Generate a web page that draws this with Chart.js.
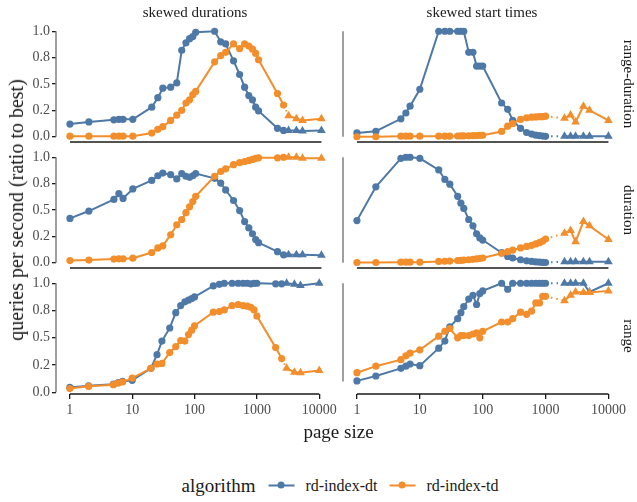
<!DOCTYPE html>
<html><head><meta charset="utf-8">
<script src="https://cdn.jsdelivr.net/npm/chart.js@4.4.1/dist/chart.umd.min.js"></script>
<style>
html,body{margin:0;padding:0;background:#fff;}
#wrap{position:relative;width:637px;height:502px;overflow:hidden;font-family:'Liberation Serif','Times New Roman',serif;color:#1a1a1a;background:#fff;}
#wrap canvas{position:absolute;}
.t{position:absolute;white-space:nowrap;line-height:1;}
.sym{position:relative;display:inline-block;width:26px;height:10px;}
.sym .ln{position:absolute;left:0;right:0;top:4px;height:2px;}
.sym .dt{position:absolute;left:9.5px;top:1.5px;width:7px;height:7px;border-radius:50%;}
</style></head><body><div id="wrap"></div>
<script>
// ---- data ----
const colNames = ['skewed durations', 'skewed start times'];
const rowNames = ['range-duration', 'duration', 'range'];
const seriesNames = ['rd-index-dt', 'rd-index-td'];
const legendTitle = 'algorithm';
const xTitle = 'page size';
const yTitle = 'queries per second (ratio to best)';
const xTickValues = [1, 10, 100, 1000, 10000];
const xTickLabels = ['1', '10', '100', '1000', '10000'];
const yTickValues = [0, 0.25, 0.5, 0.75, 1];
const yTickLabels = ['0.0', '0.2', '0.5', '0.8', '1.0'];

const pageSizesLeft = [1,2,5,6,7,10,20,25,30,40,50,60,70,80,90,100,200,250,300,400,500,600,700,800,900,1000,2000,2500,3000,4000,5000,10000];
const triangleFromLeft = 3000;
const pageSizesRight = [1,2,5,6,7,10,20,25,30,40,45,50,60,70,80,90,100,200,250,300,400,500,600,700,800,900,1000,2000,2500,3000,4000,5000,10000];
const triangleFromRight = 2000;

// skewed durations
const dtRangeDurationLeft = [0.12,0.14,0.16,0.165,0.165,0.165,0.28,0.37,0.46,0.47,0.51,0.82,0.89,0.93,0.95,0.99,1.0,0.9,0.88,0.72,0.59,0.47,0.39,0.35,0.28,0.245,0.08,0.06,0.06,0.06,0.055,0.06];
const tdRangeDurationLeft = [0.005,0.005,0.005,0.005,0.005,0.005,0.035,0.07,0.095,0.155,0.205,0.25,0.32,0.35,0.40,0.43,0.71,0.77,0.80,0.88,0.835,0.88,0.86,0.83,0.79,0.73,0.41,0.30,0.20,0.17,0.155,0.17];
const dtDurationLeft = [0.42,0.49,0.60,0.655,0.61,0.70,0.78,0.825,0.85,0.835,0.795,0.845,0.82,0.81,0.825,0.845,0.80,0.755,0.69,0.59,0.495,0.39,0.33,0.275,0.22,0.19,0.105,0.075,0.075,0.075,0.075,0.07];
const tdDurationLeft = [0.02,0.025,0.035,0.037,0.037,0.043,0.097,0.14,0.16,0.265,0.36,0.41,0.475,0.53,0.58,0.63,0.82,0.865,0.89,0.93,0.95,0.96,0.97,0.98,0.99,0.995,0.995,1.0,1.0,1.0,0.99,0.99];
const dtRangeLeft = [0.045,0.06,0.075,0.09,0.10,0.11,0.22,0.345,0.47,0.59,0.73,0.795,0.83,0.845,0.86,0.875,0.975,0.99,1.0,1.0,1.0,1.0,1.0,0.995,1.0,1.0,0.995,0.995,1.0,0.99,0.98,1.0];
const tdRangeLeft = [0.035,0.055,0.07,0.085,0.095,0.13,0.22,0.26,0.265,0.365,0.42,0.475,0.47,0.53,0.57,0.61,0.735,0.74,0.755,0.795,0.805,0.795,0.79,0.78,0.755,0.70,0.41,0.31,0.22,0.185,0.18,0.20];

// skewed start times
const dtRangeDurationRight = [0.036,0.052,0.17,0.225,0.29,0.45,1.0,1.0,1.0,1.0,1.0,1.0,0.80,0.80,0.67,0.67,0.67,0.32,0.26,0.155,0.08,0.04,0.025,0.015,0.01,0.006,0.004,0.005,0.005,0.005,0.005,0.005,0.005];
const tdRangeDurationRight = [0.0,0.0,0.005,0.005,0.005,0.005,0.005,0.005,0.005,0.007,0.008,0.008,0.009,0.01,0.011,0.012,0.014,0.05,0.10,0.125,0.165,0.18,0.185,0.188,0.19,0.19,0.195,0.175,0.205,0.14,0.29,0.25,0.155];
const dtDurationRight = [0.40,0.72,0.99,1.0,1.0,0.99,0.88,0.79,0.745,0.63,0.565,0.515,0.41,0.35,0.275,0.235,0.215,0.095,0.06,0.045,0.028,0.018,0.012,0.008,0.005,0.003,0.002,0.01,0.01,0.01,0.01,0.01,0.01];
const tdDurationRight = [0.002,0.002,0.005,0.005,0.005,0.005,0.012,0.014,0.016,0.02,0.022,0.025,0.028,0.032,0.036,0.04,0.045,0.09,0.105,0.12,0.14,0.155,0.165,0.178,0.19,0.205,0.225,0.28,0.305,0.20,0.39,0.35,0.22];
const dtRangeRight = [0.105,0.15,0.22,0.24,0.26,0.245,0.405,0.47,0.60,0.675,0.73,0.785,0.855,0.89,0.805,0.905,0.93,1.0,0.945,1.0,1.0,1.0,1.0,1.0,1.0,1.0,1.0,1.0,1.0,1.0,1.0,0.92,1.0];
const tdRangeRight = [0.18,0.24,0.30,0.335,0.36,0.39,0.515,0.56,0.585,0.50,0.52,0.52,0.52,0.535,0.545,0.50,0.56,0.645,0.645,0.675,0.735,0.715,0.745,0.82,0.82,0.88,0.88,0.84,0.89,0.92,0.915,0.915,0.93];

// ---- layout / style ----
const FONT = "'Liberation Serif','Times New Roman',serif";
const BLUE = '#4e79a7', ORANGE = '#f28e2b';
const PAD = 14;
const cols = [
  {canvasLeft: 0, width: 340, areaLeft: 56, areaRight: 334, xs: pageSizesLeft, tri: triangleFromLeft},
  {canvasLeft: 336, width: 301, areaLeft: 343, areaRight: 621, xs: pageSizesRight, tri: triangleFromRight}
];
const rows = [
  {top: 26, h: 116, yMin: -0.05, yMax: 1.05},
  {top: 152, h: 116, yMin: -0.05, yMax: 1.05},
  {top: 278, h: 116, yMin: -0.015, yMax: 1.048}
];
const panelSeries = [
  [[dtRangeDurationLeft, tdRangeDurationLeft], [dtRangeDurationRight, tdRangeDurationRight]],
  [[dtDurationLeft, tdDurationLeft], [dtDurationRight, tdDurationRight]],
  [[dtRangeLeft, tdRangeLeft], [dtRangeRight, tdRangeRight]]
];
const yCapBottom = [[0, 0], [0, 0], [0, 0.1]];
const X_MIN = Math.pow(10, -0.2), X_MAX = Math.pow(10, 4.2);

const wrap = document.getElementById('wrap');

function addText(txt, x, y, size, opts) {
  const d = document.createElement('div');
  d.className = 't';
  d.textContent = txt;
  d.style.left = x + 'px';
  d.style.top = y + 'px';
  d.style.fontSize = size + 'px';
  d.style.transform = 'translate(-50%,-50%)' + (opts && opts.rot ? ' rotate(' + opts.rot + 'deg)' : '');
  if (opts && opts.color) d.style.color = opts.color;
  wrap.appendChild(d);
  return d;
}

const capPlugin = {
  id: 'caps',
  beforeDatasetsDraw(chart, args, o) {
    const {ctx, chartArea, scales} = chart;
    const x = scales.x, y = scales.y;
    ctx.save();
    ctx.lineCap = 'butt';
    ctx.strokeStyle = '#7f7f7f';
    ctx.lineWidth = 1.5;
    ctx.beginPath();
    ctx.moveTo(chartArea.left, y.getPixelForValue(1));
    ctx.lineTo(chartArea.left, y.getPixelForValue(o.capBottom));
    ctx.stroke();
    ctx.strokeStyle = '#1a1a1a';
    ctx.lineWidth = 1.5;
    ctx.beginPath();
    ctx.moveTo(x.getPixelForValue(1), chartArea.bottom);
    ctx.lineTo(x.getPixelForValue(10000), chartArea.bottom);
    ctx.stroke();
    ctx.restore();
  }
};

function makeDataset(name, color, xs, ys, tri, order) {
  return {
    label: name,
    data: xs.map((x, i) => ({x: x, y: ys[i]})),
    borderColor: color,
    backgroundColor: color,
    borderWidth: 2,
    pointStyle: xs.map(x => x >= tri ? 'triangle' : 'circle'),
    pointRadius: xs.map(x => x >= tri ? 5 : 3.6),
    pointBorderWidth: 0,
    pointBackgroundColor: color,
    tension: 0,
    clip: false,
    order: order,
    segment: {
      borderDash: ctx => (xs[ctx.p0DataIndex] < tri && xs[ctx.p1DataIndex] >= tri) ? [1.5, 4] : undefined
    }
  };
}

for (let r = 0; r < 3; r++) {
  for (let c = 0; c < 2; c++) {
    const col = cols[c], row = rows[r];
    const isLeft = c === 0, isBottom = r === 2;
    const cv = document.createElement('canvas');
    const cTop = row.top - PAD;
    const cH = PAD + row.h + (isBottom ? 32 : PAD);
    cv.width = col.width; cv.height = cH;
    cv.style.left = col.canvasLeft + 'px';
    cv.style.top = cTop + 'px';
    cv.style.width = col.width + 'px';
    cv.style.height = cH + 'px';
    wrap.appendChild(cv);
    const [dt, td] = panelSeries[r][c];
    const xScale = {
      type: 'logarithmic',
      min: X_MIN, max: X_MAX,
      display: isBottom,
      afterBuildTicks: s => { s.ticks = xTickValues.map(v => ({value: v})); },
      ticks: {
        autoSkip: false, maxRotation: 0, minRotation: 0,
        padding: 3,
        color: '#4d4d4d',
        font: {family: FONT, size: 14},
        callback: (v, i) => xTickLabels[i]
      },
      grid: {display: true, drawOnChartArea: false, drawTicks: true, tickLength: 5, color: '#1a1a1a', lineWidth: 1.3},
      border: {display: false}
    };
    if (isBottom) xScale.afterFit = s => { s.height = 30; };
    const yScale = {
      type: 'linear',
      min: row.yMin, max: row.yMax,
      display: isLeft,
      afterBuildTicks: s => { s.ticks = yTickValues.map(v => ({value: v})); },
      ticks: {
        autoSkip: false,
        padding: 2,
        color: '#4d4d4d',
        font: {family: FONT, size: 14},
        callback: (v, i) => yTickLabels[i]
      },
      grid: {display: true, drawOnChartArea: false, drawTicks: true, tickLength: 4, color: '#1a1a1a', lineWidth: 1.3},
      border: {display: false}
    };
    if (isLeft) yScale.afterFit = s => { s.width = 56; };
    new Chart(cv, {
      type: 'line',
      data: {
        datasets: [
          makeDataset(seriesNames[0], BLUE, col.xs, dt, col.tri, 1),
          makeDataset(seriesNames[1], ORANGE, col.xs, td, col.tri, 0)
        ]
      },
      options: {
        responsive: false,
        animation: false,
        devicePixelRatio: 1,
        events: [],
        layout: {
          padding: {
            left: isLeft ? 0 : col.areaLeft - col.canvasLeft,
            right: col.canvasLeft + col.width - col.areaRight,
            top: PAD,
            bottom: isBottom ? 2 : PAD
          }
        },
        plugins: {
          legend: {display: false},
          tooltip: {enabled: false},
          caps: {capBottom: yCapBottom[r][c]}
        },
        scales: {x: xScale, y: yScale}
      },
      plugins: [capPlugin]
    });
  }
}

// strip labels
addText(colNames[0], (cols[0].areaLeft + cols[0].areaRight) / 2, 12, 15);
addText(colNames[1], (cols[1].areaLeft + cols[1].areaRight) / 2, 12, 15);
rows.forEach((row, i) => addText(rowNames[i], 628, row.top + row.h / 2, 15, {rot: 90}));
// axis titles
addText(yTitle, 16, 210, 20, {rot: -90});
addText(xTitle, (cols[0].areaLeft + cols[1].areaRight) / 2, 431, 19);

// legend
const lg = document.createElement('div');
lg.className = 't';
lg.style.left = '340px';
lg.style.top = '485px';
lg.style.transform = 'translate(-50%,-50%)';
lg.style.display = 'flex';
lg.style.alignItems = 'center';
const lt = document.createElement('span');
lt.textContent = legendTitle;
lt.style.fontSize = '19px';
lt.style.marginRight = '13px';
lg.appendChild(lt);
[BLUE, ORANGE].forEach((colr, i) => {
  const s = document.createElement('span');
  s.className = 'sym';
  s.innerHTML = '<span class="ln"></span><span class="dt"></span>';
  s.querySelector('.ln').style.background = colr;
  s.querySelector('.dt').style.background = colr;
  s.style.marginRight = '11px';
  lg.appendChild(s);
  const l = document.createElement('span');
  l.textContent = seriesNames[i];
  l.style.fontSize = '16px';
  if (i === 0) l.style.marginRight = '12px';
  lg.appendChild(l);
});
wrap.appendChild(lg);
</script></body></html>
